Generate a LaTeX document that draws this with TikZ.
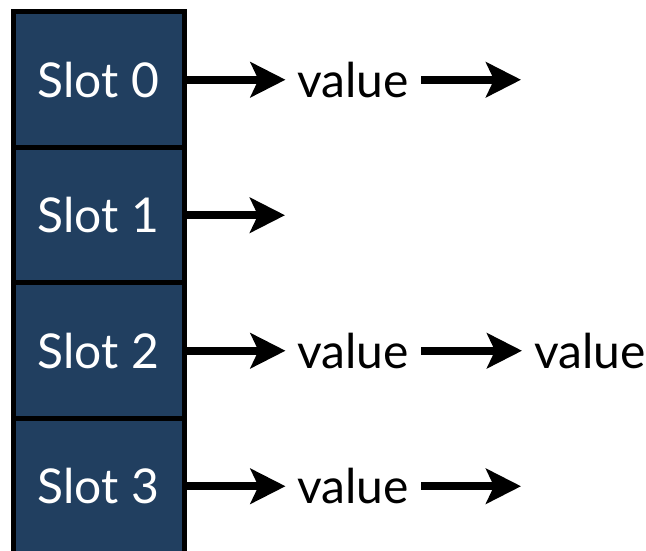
\documentclass[tikz,border=0pt]{standalone}
\usepackage{fontspec}
\setmainfont{Lato}
\usetikzlibrary{positioning}
\usetikzlibrary{arrows.meta}
\definecolor{slotblue}{RGB}{33,63,96}
\tikzset{
  slot/.style={rectangle,draw=black,fill=slotblue,line width=5pt,
               minimum width=171pt,minimum height=135.5pt,outer sep=0pt,
               text=white,font=\fontsize{48}{56}\selectfont},
  entry/.style={rectangle,inner xsep=12pt,inner ysep=0pt,outer sep=0pt,
                font=\fontsize{48}{56}\selectfont},
  ptr/.style={-{Stealth[length=35pt,width=35pt,inset=8pt]},line width=8pt},
}

\begin{document}
\begin{tikzpicture}[node distance=0pt]
  \useasboundingbox (0pt,0pt) rectangle (646pt,551pt);
  \clip (0pt,0pt) rectangle (646pt,551pt);
  % slots
  \node[slot] (s0) at (98.5pt,471.25pt) {Slot 0};
  \node[slot] (s1) [below=of s0]        {Slot 1};
  \node[slot] (s2) [below=of s1]        {Slot 2};
  \node[slot] (s3) [below=of s2]        {Slot 3};

  % chained values
  \node[entry] (v0)  [right=101.5pt of s0] {value};
  \node[entry] (v2)  [right=101.5pt of s2] {value};
  \node[entry] (v2b) [right=101pt of v2]   {value};
  \node[entry] (v3)  [right=101.5pt of s3] {value};
  \coordinate[right=100pt of v0] (e0);
  \coordinate[right=101pt of s1] (e1);
  \coordinate[right=100pt of v3] (e3);

  % pointers
  \draw[ptr] (s0.east) -- (v0);
  \draw[ptr] (v0) -- (e0);
  \draw[ptr] (s1.east) -- (e1);
  \draw[ptr] (s2.east) -- (v2);
  \draw[ptr] (v2) -- (v2b);
  \draw[ptr] (s3.east) -- (v3);
  \draw[ptr] (v3) -- (e3);
\end{tikzpicture}
\end{document}
